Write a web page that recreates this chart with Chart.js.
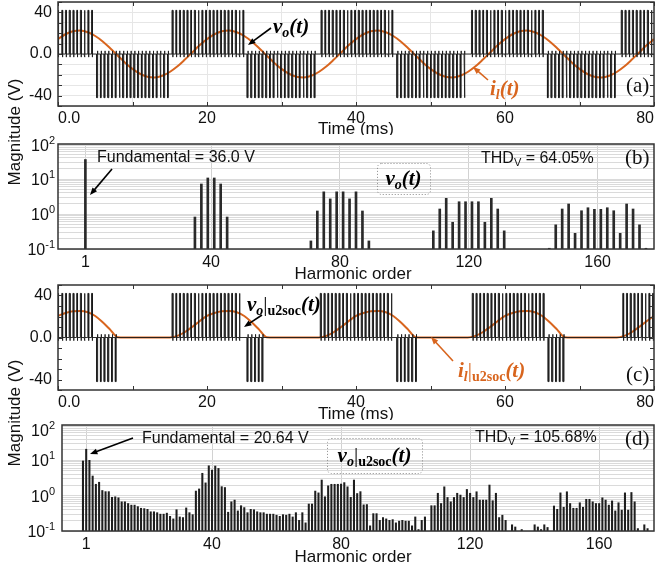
<!DOCTYPE html>
<html>
<head>
<meta charset="utf-8">
<title>Output voltage and harmonic spectrum</title>
<script src="https://cdn.jsdelivr.net/npm/chart.js@4.4.1/dist/chart.umd.min.js"></script>
<style>
  html, body { margin: 0; padding: 0; background: #ffffff; }
  #page { position: relative; width: 655px; height: 573px; overflow: hidden; background: #ffffff; }
  #page canvas { position: absolute; left: 0; }
  .ylab { position: absolute; left: -45px; width: 120px; height: 20px; line-height: 20px; text-align: center;
          font: 17px Arial, 'Liberation Sans', sans-serif; color: #111; transform: rotate(-90deg); white-space: nowrap; }
</style>
</head>
<body>
<div id="page">
  <canvas id="chartA" width="655" height="135" style="top:0px"></canvas>
  <canvas id="chartB" width="655" height="147" style="top:135px"></canvas>
  <canvas id="chartC" width="655" height="138" style="top:282px"></canvas>
  <canvas id="chartD" width="655" height="155" style="top:418px"></canvas>
  <div class="ylab" style="top:122px">Magnitude (V)</div>
  <div class="ylab" style="top:403px">Magnitude (V)</div>
</div>
<script>
// ---- values ----
// time panels (a) and (c): one current sample per ms
const timeMs = [0, 1, 2, 3, 4, 5, 6, 7, 8, 9, 10, 11, 12, 13, 14, 15, 16, 17, 18, 19,
    20, 21, 22, 23, 24, 25, 26, 27, 28, 29, 30, 31, 32, 33, 34, 35, 36, 37, 38, 39,
    40, 41, 42, 43, 44, 45, 46, 47, 48, 49, 50, 51, 52, 53, 54, 55, 56, 57, 58, 59,
    60, 61, 62, 63, 64, 65, 66, 67, 68, 69, 70, 71, 72, 73, 74, 75, 76, 77, 78, 79, 80];
const ilA = [14.3, 19.0, 21.8, 22.5, 20.9, 17.3, 12.1, 5.6, -1.4, -8.3, -14.3, -19.0, -21.8, -22.5, -20.9, -17.3, -12.1, -5.6, 1.4, 8.3,
    14.3, 19.0, 21.8, 22.5, 20.9, 17.3, 12.1, 5.6, -1.4, -8.3, -14.3, -19.0, -21.8, -22.5, -20.9, -17.3, -12.1, -5.6, 1.4, 8.3,
    14.3, 19.0, 21.8, 22.5, 20.9, 17.3, 12.1, 5.6, -1.4, -8.3, -14.3, -19.0, -21.8, -22.5, -20.9, -17.3, -12.1, -5.6, 1.4, 8.3,
    14.3, 19.0, 21.8, 22.5, 20.9, 17.3, 12.1, 5.6, -1.4, -8.3, -14.3, -19.0, -21.8, -22.5, -20.9, -17.3, -12.1, -5.6, 1.4, 8.3, 14.3];
const ilC = [20.5, 23.3, 25.0, 25.3, 24.0, 20.5, 14.5, 7.5, 0.3, 0, 0, 0, 0, 0, 0, 0, 1.5, 5.0, 10.0, 15.5,
    20.5, 23.3, 25.0, 25.3, 24.0, 20.5, 14.5, 7.5, 0.3, 0, 0, 0, 0, 0, 0, 0, 1.5, 5.0, 10.0, 15.5,
    20.5, 23.3, 25.0, 25.3, 24.0, 20.5, 14.5, 7.5, 0.3, 0, 0, 0, 0, 0, 0, 0, 1.5, 5.0, 10.0, 15.5,
    20.5, 23.3, 25.0, 25.3, 24.0, 20.5, 14.5, 7.5, 0.3, 0, 0, 0, 0, 0, 0, 0, 1.5, 5.0, 10.0, 15.5, 20.5];

// switching blocks of the output voltage (ms), sign of the pulses in each block
const voA_start = [0, 5.2, 15.3, 25.4, 35.3, 45.5, 55.5, 65.7, 75.6];
const voA_end   = [5.0, 15.0, 25.0, 35.0, 45.2, 55.1, 65.3, 75.2, 80];
const voA_sign  = [1, -1, 1, -1, 1, -1, 1, -1, 1];
const voC_start = [0, 5.2, 15.3, 25.4, 35.2, 45.5, 55.6, 65.8, 75.8];
const voC_end   = [4.9, 7.9, 24.7, 28.0, 45.0, 48.2, 65.5, 68.4, 80];
const voC_sign  = [1, -1, 1, -1, 1, -1, 1, -1, 1];
const pulsePeriod = 0.5;   // ms
const pulseWidth = 0.12;   // ms
const pulseTop = 42;       // V
const pulseDip = 3;        // V

const timeTicks = [0, 20, 40, 60, 80];
const timeTickLabels = ['0.0', '20', '40', '60', '80'];
const voltTicks = [-40, 0, 40];
const voltTickLabels = ['-40', '0.0', '40'];
const harmTicks = [1, 40, 80, 120, 160];

// spectrum (b): only these odd harmonics show up
const harmB = [1, 35, 37, 39, 41, 43, 45, 71, 73, 75, 77, 79, 81, 83, 85, 87, 89,
    109, 111, 113, 115, 117, 119, 121, 123, 125, 127, 129, 131,
    145, 147, 149, 151, 153, 155, 157, 159, 161, 163, 165, 167, 169, 171, 173, 175];
const magB = [36.0, 0.82, 7.2, 10.7, 10.7, 7.2, 0.82, 0.17, 1.22, 4.3, 2.7, 4.3, 4.3, 2.7, 4.3, 1.22, 0.17,
    0.33, 1.39, 2.8, 0.58, 2.24, 2.24, 2.24, 2.24, 0.58, 2.8, 1.39, 0.33,
    0.105, 0.49, 1.39, 1.93, 0.28, 1.24, 1.51, 1.36, 1.36, 1.51, 1.24, 0.28, 1.93, 1.39, 0.49, 0.105];

// spectrum (d): index = harmonic order 0..175 (null = below 0.1)
const magD = [9.6, 20.64, 10, 3.6, 2.1, 2.4, 1.4, 1.3, 1.3, 0.9,
    0.93, 0.87, 0.67, 0.67, 0.6, 0.54, 0.54, 0.49, 0.44, 0.43,
    0.41, 0.35, 0.35, 0.33, 0.3, 0.3, 0.32, 0.26, 0.22, 0.4,
    0.25, 0.24, 0.45, 0.33, 0.29, 1.35, 1.55, 4.3, 2.3, 7.0,
    5.3, 6.9, 5.9, 1.8, 1.7, 0.34, 0.67, 0.75, 0.37, 0.52,
    0.46, 0.33, 0.41, 0.4, 0.35, 0.33, 0.33, 0.3, 0.3, 0.3,
    0.28, 0.26, 0.29, 0.28, 0.3, 0.25, 0.33, 0.2, 0.33, 0.17,
    0.58, 0.58, 1.35, 1.2, 2.77, 0.93, 1.9, 2.1, 2.1, 2.1,
    2.13, 2.34, 1.78, 0.9, 2.77, 1.15, 1.3, 0.55, 0.56, 0.14,
    0.31, 0.31, 0.2, 0.24, 0.22, 0.2, 0.21, 0.17, 0.19, 0.2,
    0.19, 0.19, 0.14, 0.25, 0.11, 0.2, 0.25, null, 0.52, 0.52,
    1.17, 0.6, 1.78, 0.89, 0.67, 0.89, 1.17, 1.04, 0.89, 1.5,
    1.17, 0.89, 1.29, 0.75, 0.75, 0.75, 2.0, 0.72, 1.17, 0.24,
    0.28, 0.2, null, 0.15, 0.13, null, 0.11, null, null, null,
    0.15, 0.13, 0.11, 0.15, 0.126, null, 0.51, 0.41, 1.2, 0.47,
    1.29, 0.6, 0.44, 0.44, 0.63, 0.47, 0.79, 0.79, 0.67, 0.6,
    0.6, 0.87, 0.75, 0.54, 0.71, 0.37, 0.63, 0.39, 1.2, 0.39,
    1.23, 0.67, 0.117, null, 0.15, 0.117];

// gridline positions
const logGrid = [0.1, 0.2, 0.3, 0.4, 0.5, 0.6, 0.7, 0.8, 0.9, 1, 2, 3, 4, 5, 6, 7, 8, 9,
    10, 20, 30, 40, 50, 60, 70, 80, 90, 100];
const timeGrid = [0, 10, 20, 30, 40, 50, 60, 70, 80];
const voltGrid = [-50, -40, -30, -20, -10, 0, 10, 20, 30, 40, 50];

// ---- styling ----
const SANS = "Arial, 'Liberation Sans', Helvetica, sans-serif";
const SERIF = "'Liberation Serif', 'Times New Roman', serif";
const ORANGE = '#d8651e';
const vBig = 'bold italic 21px ' + SERIF;
const vSub = 'bold italic 14px ' + SERIF;
const uSub = 'bold 14px ' + SERIF;

Chart.defaults.font.family = SANS;
Chart.defaults.font.size = 16;
Chart.defaults.color = '#111';

// build the step trace of the switched voltage from the blocks above
function pwmPoints(starts, ends, signs) {
    const pts = [{ x: 0, y: 0 }];
    starts.forEach((s, k) => {
        const lvl = signs[k] * pulseTop;
        const dip = -signs[k] * pulseDip;
        for (let t = s; t + pulseWidth <= ends[k] + 0.001; t += pulsePeriod) {
            pts.push({ x: t, y: 0 }, { x: t, y: lvl }, { x: t + pulseWidth, y: lvl },
                     { x: t + pulseWidth, y: dip }, { x: t + pulseWidth, y: 0 });
        }
    });
    pts.push({ x: 80, y: 0 });
    return pts;
}

function richText(ctx, x, y, parts, align) {
    ctx.save();
    ctx.textBaseline = 'alphabetic';
    ctx.textAlign = 'left';
    let w = 0;
    parts.forEach(p => { ctx.font = p.font; w += ctx.measureText(p.t).width + (p.gap || 0); });
    let cx = align === 'center' ? x - w / 2 : x;
    parts.forEach(p => {
        ctx.font = p.font;
        ctx.fillStyle = p.color || '#000';
        ctx.fillText(p.t, cx, y + (p.dy || 0));
        cx += ctx.measureText(p.t).width + (p.gap || 0);
    });
    ctx.restore();
}

function arrow(ctx, x1, y1, x2, y2, color) {
    const a = Math.atan2(y2 - y1, x2 - x1);
    const h = 8;
    ctx.save();
    ctx.strokeStyle = color;
    ctx.fillStyle = color;
    ctx.lineWidth = 1.6;
    ctx.beginPath();
    ctx.moveTo(x1, y1);
    ctx.lineTo(x2 - Math.cos(a) * h * 0.8, y2 - Math.sin(a) * h * 0.8);
    ctx.stroke();
    ctx.beginPath();
    ctx.moveTo(x2, y2);
    ctx.lineTo(x2 - h * Math.cos(a - 0.38), y2 - h * Math.sin(a - 0.38));
    ctx.lineTo(x2 - h * Math.cos(a + 0.38), y2 - h * Math.sin(a + 0.38));
    ctx.closePath();
    ctx.fill();
    ctx.restore();
}

function plainText(ctx, text, x, y, font, align) {
    ctx.save();
    ctx.font = font;
    ctx.fillStyle = '#111';
    ctx.textAlign = align || 'left';
    ctx.textBaseline = 'alphabetic';
    ctx.fillText(text, x, y);
    ctx.restore();
}

function thdText(ctx, x, y, value) {
    richText(ctx, x, y, [
        { t: 'THD', font: '16px ' + SANS, color: '#111' },
        { t: 'V', font: '11px ' + SANS, dy: 3, color: '#111' },
        { t: ' = ' + value, font: '16px ' + SANS, color: '#111' }
    ]);
}

function dottedBox(ctx, x, y, w, h) {
    ctx.save();
    ctx.strokeStyle = '#8a8a8a';
    ctx.lineWidth = 1;
    ctx.setLineDash([1, 2]);
    ctx.beginPath();
    ctx.roundRect(x + 0.5, y + 0.5, w, h, 4);
    ctx.stroke();
    ctx.restore();
}

function logLabels(ctx, scale, rightX, topShift) {
    [[100, '2'], [10, '1'], [1, '0'], [0.1, '-1']].forEach(([v, e]) => {
        const py = scale.getPixelForValue(v) + (v === 100 ? topShift : 0);
        ctx.save();
        ctx.font = '16px ' + SANS;
        const w1 = ctx.measureText('10').width;
        ctx.font = '11px ' + SANS;
        const w2 = ctx.measureText(e).width;
        const x0 = rightX - w1 - w2;
        ctx.fillStyle = '#111';
        ctx.textBaseline = 'alphabetic';
        ctx.font = '16px ' + SANS;
        ctx.fillText('10', x0, py + 6);
        ctx.font = '11px ' + SANS;
        ctx.fillText(e, x0 + w1, py - 1);
        ctx.restore();
    });
}

// frame around the plot area plus small inward ticks
const framePlugin = {
    id: 'frame',
    afterDraw(chart, args, opts) {
        const { ctx, chartArea: a, scales } = chart;
        ctx.save();
        ctx.strokeStyle = '#333';
        if (opts.inTicks) {
            ctx.lineWidth = 1;
            ctx.beginPath();
            scales.x.ticks.forEach(t => {
                const px = Math.round(scales.x.getPixelForValue(t.value)) + 0.5;
                ctx.moveTo(px, a.bottom); ctx.lineTo(px, a.bottom - 4);
                ctx.moveTo(px, a.top); ctx.lineTo(px, a.top + 4);
            });
            scales.y.ticks.forEach(t => {
                const py = Math.round(scales.y.getPixelForValue(t.value)) + 0.5;
                ctx.moveTo(a.left, py); ctx.lineTo(a.left + 4, py);
                ctx.moveTo(a.right, py); ctx.lineTo(a.right - 4, py);
            });
            ctx.stroke();
        }
        ctx.lineWidth = 1.5;
        ctx.strokeRect(a.left, a.top, a.right - a.left, a.bottom - a.top);
        ctx.restore();
    }
};
Chart.register(framePlugin);

function timeOptions(padTop, xHeight, gridColor) {
    return {
        responsive: false,
        animation: false,
        events: [],
        layout: { padding: { top: padTop, right: 1, left: 0, bottom: 0 } },
        plugins: { legend: { display: false }, tooltip: { enabled: false }, frame: { inTicks: true } },
        scales: {
            x: {
                type: 'linear', min: 0, max: 80,
                afterBuildTicks: s => { s.ticks = timeGrid.map(v => ({ value: v })); },
                ticks: {
                    autoSkip: false, maxRotation: 0, padding: 3, align: 'inner',
                    font: { size: 16 },
                    callback: v => { const i = timeTicks.indexOf(v); return i >= 0 ? timeTickLabels[i] : ''; }
                },
                grid: { drawTicks: false, color: gridColor },
                border: { display: false },
                afterFit: s => { s.height = xHeight; s.paddingLeft = 0; s.paddingRight = 0; }
            },
            y: {
                min: -50, max: 50,
                afterBuildTicks: s => { s.ticks = voltGrid.map(v => ({ value: v })); },
                ticks: {
                    autoSkip: false, padding: 6,
                    font: { size: 16 },
                    callback: v => { const i = voltTicks.indexOf(v); return i >= 0 ? voltTickLabels[i] : ''; }
                },
                grid: { drawTicks: false, color: gridColor },
                border: { display: false },
                afterFit: s => { s.width = 58; s.paddingTop = 0; s.paddingBottom = 0; }
            }
        }
    };
}

function spectrumOptions(padTop, xHeight, yWidth, xMin, xMax) {
    return {
        responsive: false,
        animation: false,
        events: [],
        layout: { padding: { top: padTop, right: 1, left: 0, bottom: 0 } },
        plugins: { legend: { display: false }, tooltip: { enabled: false }, frame: { inTicks: false } },
        scales: {
            x: {
                type: 'linear', min: xMin, max: xMax, offset: false,
                afterBuildTicks: s => { s.ticks = harmTicks.map(v => ({ value: v })); },
                ticks: { autoSkip: false, maxRotation: 0, padding: 4, font: { size: 16 } },
                grid: { drawTicks: false, offset: false, color: '#d2d2d2' },
                border: { display: false },
                afterFit: s => { s.height = xHeight; s.paddingLeft = 0; s.paddingRight = 0; }
            },
            y: {
                type: 'logarithmic', min: 0.1, max: 100,
                afterBuildTicks: s => { s.ticks = logGrid.map(v => ({ value: v })); },
                ticks: { autoSkip: false, callback: () => '' },
                grid: { drawTicks: false, color: '#dadada' },
                border: { display: false },
                afterFit: s => { s.width = yWidth; s.paddingTop = 0; s.paddingBottom = 0; }
            }
        }
    };
}

// ---- (a) ----
new Chart(document.getElementById('chartA'), {
    type: 'line',
    data: {
        datasets: [
            { data: pwmPoints(voA_start, voA_end, voA_sign), borderColor: '#1a1a1a', borderWidth: 0.9, pointRadius: 0, tension: 0 },
            { data: timeMs.map((t, i) => ({ x: t, y: ilA[i] })), borderColor: ORANGE, borderWidth: 2, pointRadius: 0, cubicInterpolationMode: 'monotone' }
        ]
    },
    options: timeOptions(2, 29, '#e6e6e6'),
    plugins: [{
        id: 'notesA',
        afterDraw(chart) {
            const ctx = chart.ctx;
            richText(ctx, 273, 33, [{ t: 'v', font: vBig }, { t: 'o', font: vSub, dy: 4 }, { t: '(t)', font: vBig }]);
            arrow(ctx, 271, 28, 248, 45, '#000');
            richText(ctx, 490, 95, [{ t: 'i', font: vBig, color: ORANGE }, { t: 'l', font: vSub, dy: 4, color: ORANGE },
                { t: '(t)', font: vBig, color: ORANGE }]);
            arrow(ctx, 488, 80, 473, 67, ORANGE);
            plainText(ctx, '(a)', 626, 92, '21px ' + SERIF);
            plainText(ctx, 'Time (ms)', 356, 134, '17px ' + SANS, 'center');
        }
    }]
});

// ---- (b) ----
new Chart(document.getElementById('chartB'), {
    type: 'bar',
    data: {
        datasets: [{ data: harmB.map((h, i) => ({ x: h, y: magB[i] })), backgroundColor: '#2a2a2a', barThickness: 2 }]
    },
    options: spectrumOptions(9, 33, 58, -7.5, 177.5),
    plugins: [{
        id: 'notesB',
        afterDraw(chart) {
            const ctx = chart.ctx;
            const T = 135;
            logLabels(ctx, chart.scales.y, 55, 1);
            plainText(ctx, 'Fundamental = 36.0 V', 97, 162 - T, '16px ' + SANS);
            arrow(ctx, 112, 169 - T, 90, 195 - T, '#000');
            thdText(ctx, 481, 163 - T, '64.05%');
            plainText(ctx, '(b)', 625, 164 - T, '21px ' + SERIF);
            dottedBox(ctx, 377, 163 - T, 53, 31);
            richText(ctx, 403.5, 185 - T, [{ t: 'v', font: vBig }, { t: 'o', font: vSub, dy: 4 }, { t: '(t)', font: vBig }], 'center');
            plainText(ctx, 'Harmonic order', 353, 279 - T, '17px ' + SANS, 'center');
        }
    }]
});

// ---- (c) ----
new Chart(document.getElementById('chartC'), {
    type: 'line',
    data: {
        datasets: [
            { data: pwmPoints(voC_start, voC_end, voC_sign), borderColor: '#1a1a1a', borderWidth: 0.9, pointRadius: 0, tension: 0 },
            { data: timeMs.map((t, i) => ({ x: t, y: ilC[i] })), borderColor: ORANGE, borderWidth: 2, pointRadius: 0, cubicInterpolationMode: 'monotone' }
        ]
    },
    options: timeOptions(3, 30, 'rgba(0,0,0,0)'),
    plugins: [{
        id: 'notesC',
        afterDraw(chart) {
            const ctx = chart.ctx;
            const T = 282;
            richText(ctx, 247, 311 - T, [{ t: 'v', font: vBig }, { t: 'o', font: vSub, dy: 4 }, { t: '|', font: '21px ' + SERIF },
                { t: 'u2soc', font: uSub, dy: 4 }, { t: '(t)', font: vBig }]);
            arrow(ctx, 262, 315 - T, 244, 327 - T, '#000');
            richText(ctx, 458, 377 - T, [{ t: 'i', font: vBig, color: ORANGE }, { t: 'l', font: vSub, dy: 4, color: ORANGE },
                { t: '|', font: '21px ' + SERIF, color: ORANGE }, { t: 'u2soc', font: uSub, dy: 4, color: ORANGE },
                { t: '(t)', font: vBig, color: ORANGE }]);
            arrow(ctx, 453, 361 - T, 431, 337 - T, ORANGE);
            plainText(ctx, '(c)', 626, 381 - T, '21px ' + SERIF);
            plainText(ctx, 'Time (ms)', 356, 419 - T, '17px ' + SANS, 'center');
        }
    }]
});

// ---- (d) ----
new Chart(document.getElementById('chartD'), {
    type: 'bar',
    data: {
        datasets: [{
            data: magD.map((v, h) => ({ x: h, y: v })).filter(p => p.y !== null),
            backgroundColor: '#1e1e1e', barThickness: 1.4
        }]
    },
    options: spectrumOptions(7, 42, 62, -6.5, 177),
    plugins: [{
        id: 'notesD',
        afterDraw(chart) {
            const ctx = chart.ctx;
            const T = 418;
            logLabels(ctx, chart.scales.y, 55, 5);
            plainText(ctx, 'Fundamental = 20.64 V', 142, 443 - T, '16px ' + SANS);
            arrow(ctx, 133, 438 - T, 90, 454 - T, '#000');
            thdText(ctx, 475, 442 - T, '105.68%');
            plainText(ctx, '(d)', 625, 445 - T, '21px ' + SERIF);
            dottedBox(ctx, 327, 438 - T, 95, 35);
            richText(ctx, 374.5, 462 - T, [{ t: 'v', font: vBig }, { t: 'o', font: vSub, dy: 4 }, { t: '|', font: '21px ' + SERIF },
                { t: 'u2soc', font: uSub, dy: 4 }, { t: '(t)', font: vBig }], 'center');
            plainText(ctx, 'Harmonic order', 353, 562 - T, '17px ' + SANS, 'center');
        }
    }]
});
</script>
</body>
</html>
